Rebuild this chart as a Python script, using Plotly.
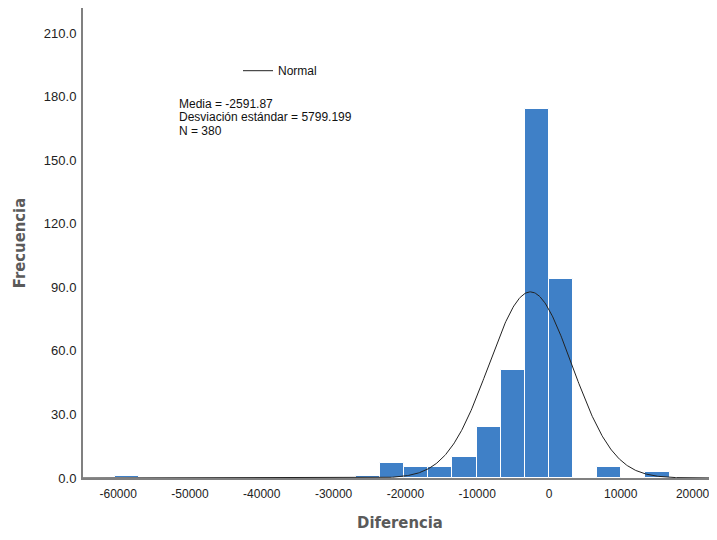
import numpy as np
import plotly.graph_objects as go

# Histogram data (bin lower edges and counts)
bin_width = 3360
bin_starts = [-60480, -26880, -23520, -20160, -16800, -13440, -10080, -6720, -3360, 0, 6720, 13440]
counts = [1, 1, 7, 5, 5, 10, 24, 51, 174, 94, 5, 3]

mean = -2591.87
std = 5799.199
n = 380

x_ticks = [-60000, -50000, -40000, -30000, -20000, -10000, 0, 10000, 20000]
y_ticks = [0, 30, 60, 90, 120, 150, 180, 210]

stats_lines = ["Media = -2591.87", "Desviación estándar = 5799.199", "N = 380"]

centers = [s + bin_width / 2 for s in bin_starts]

X_RANGE = [-64900, 23400]
Y_RANGE = [0, 221.8]

xs = np.linspace(X_RANGE[0], X_RANGE[1], 800)
ys = n * bin_width * np.exp(-0.5 * ((xs - mean) / std) ** 2) / (std * np.sqrt(2 * np.pi))

# the page body has an 8px margin, so the figure is sized to end at the window edge
W, H = 709, 532
L, R, T, B = 75, 0, 0, 62
plot_w = W - L - R
plot_h = H - T - B

fig = go.Figure()
fig.add_trace(go.Bar(
    x=centers, y=counts, width=bin_width,
    marker=dict(color="#3f80c7", line=dict(color="white", width=1)),
    showlegend=False, hoverinfo="x+y"))
fig.add_trace(go.Scatter(
    x=xs, y=ys, mode="lines", name="Normal",
    line=dict(color="#222222", width=1)))

# stats text, one annotation per line to keep the tight line spacing
for i, line in enumerate(stats_lines):
    ypix = 96 + 13.5 * i
    fig.add_annotation(
        x=(169 - L) / plot_w, y=(H - B - ypix) / plot_h,
        xref="paper", yref="paper", xanchor="left", yanchor="middle",
        showarrow=False, text=line,
        font=dict(family="Liberation Sans, Arial, sans-serif", size=12, color="#111"))

axis_title_font = dict(family="DejaVu Sans Condensed, Liberation Sans Narrow, sans-serif",
                       size=16.5, color="#5a5a5a", weight="bold")

fig.update_layout(
    width=W, height=H,
    margin=dict(l=L, r=R, t=T, b=B),
    paper_bgcolor="white", plot_bgcolor="white",
    bargap=0,
    font=dict(family="Liberation Sans, Arial, sans-serif", size=12, color="#222"),
    legend=dict(x=(230 - L) / plot_w, y=(H - B - 62.7) / plot_h,
                xanchor="left", yanchor="middle", itemwidth=30,
                bgcolor="rgba(0,0,0,0)", font=dict(size=12, color="#111")),
    xaxis=dict(range=X_RANGE, tickvals=x_ticks,
               ticktext=[str(v) for v in x_ticks],
               showgrid=False, zeroline=False, showline=True,
               linecolor="#808080", linewidth=2, ticks="", ticklabelstandoff=4,
               automargin=False,
               tickfont=dict(size=12, color="#222"),
               title=dict(text="Diferencia", font=axis_title_font, standoff=16)),
    yaxis=dict(range=Y_RANGE, tickvals=y_ticks,
               ticktext=[f"{v:.1f}" for v in y_ticks],
               showgrid=False, zeroline=False, showline=True,
               linecolor="#808080", linewidth=2, ticks="", ticklabelstandoff=2,
               automargin=False,
               tickfont=dict(size=13, color="#222"),
               title=dict(text="Frecuencia", font=axis_title_font, standoff=14)),
)

fig.write_html("out.html")
